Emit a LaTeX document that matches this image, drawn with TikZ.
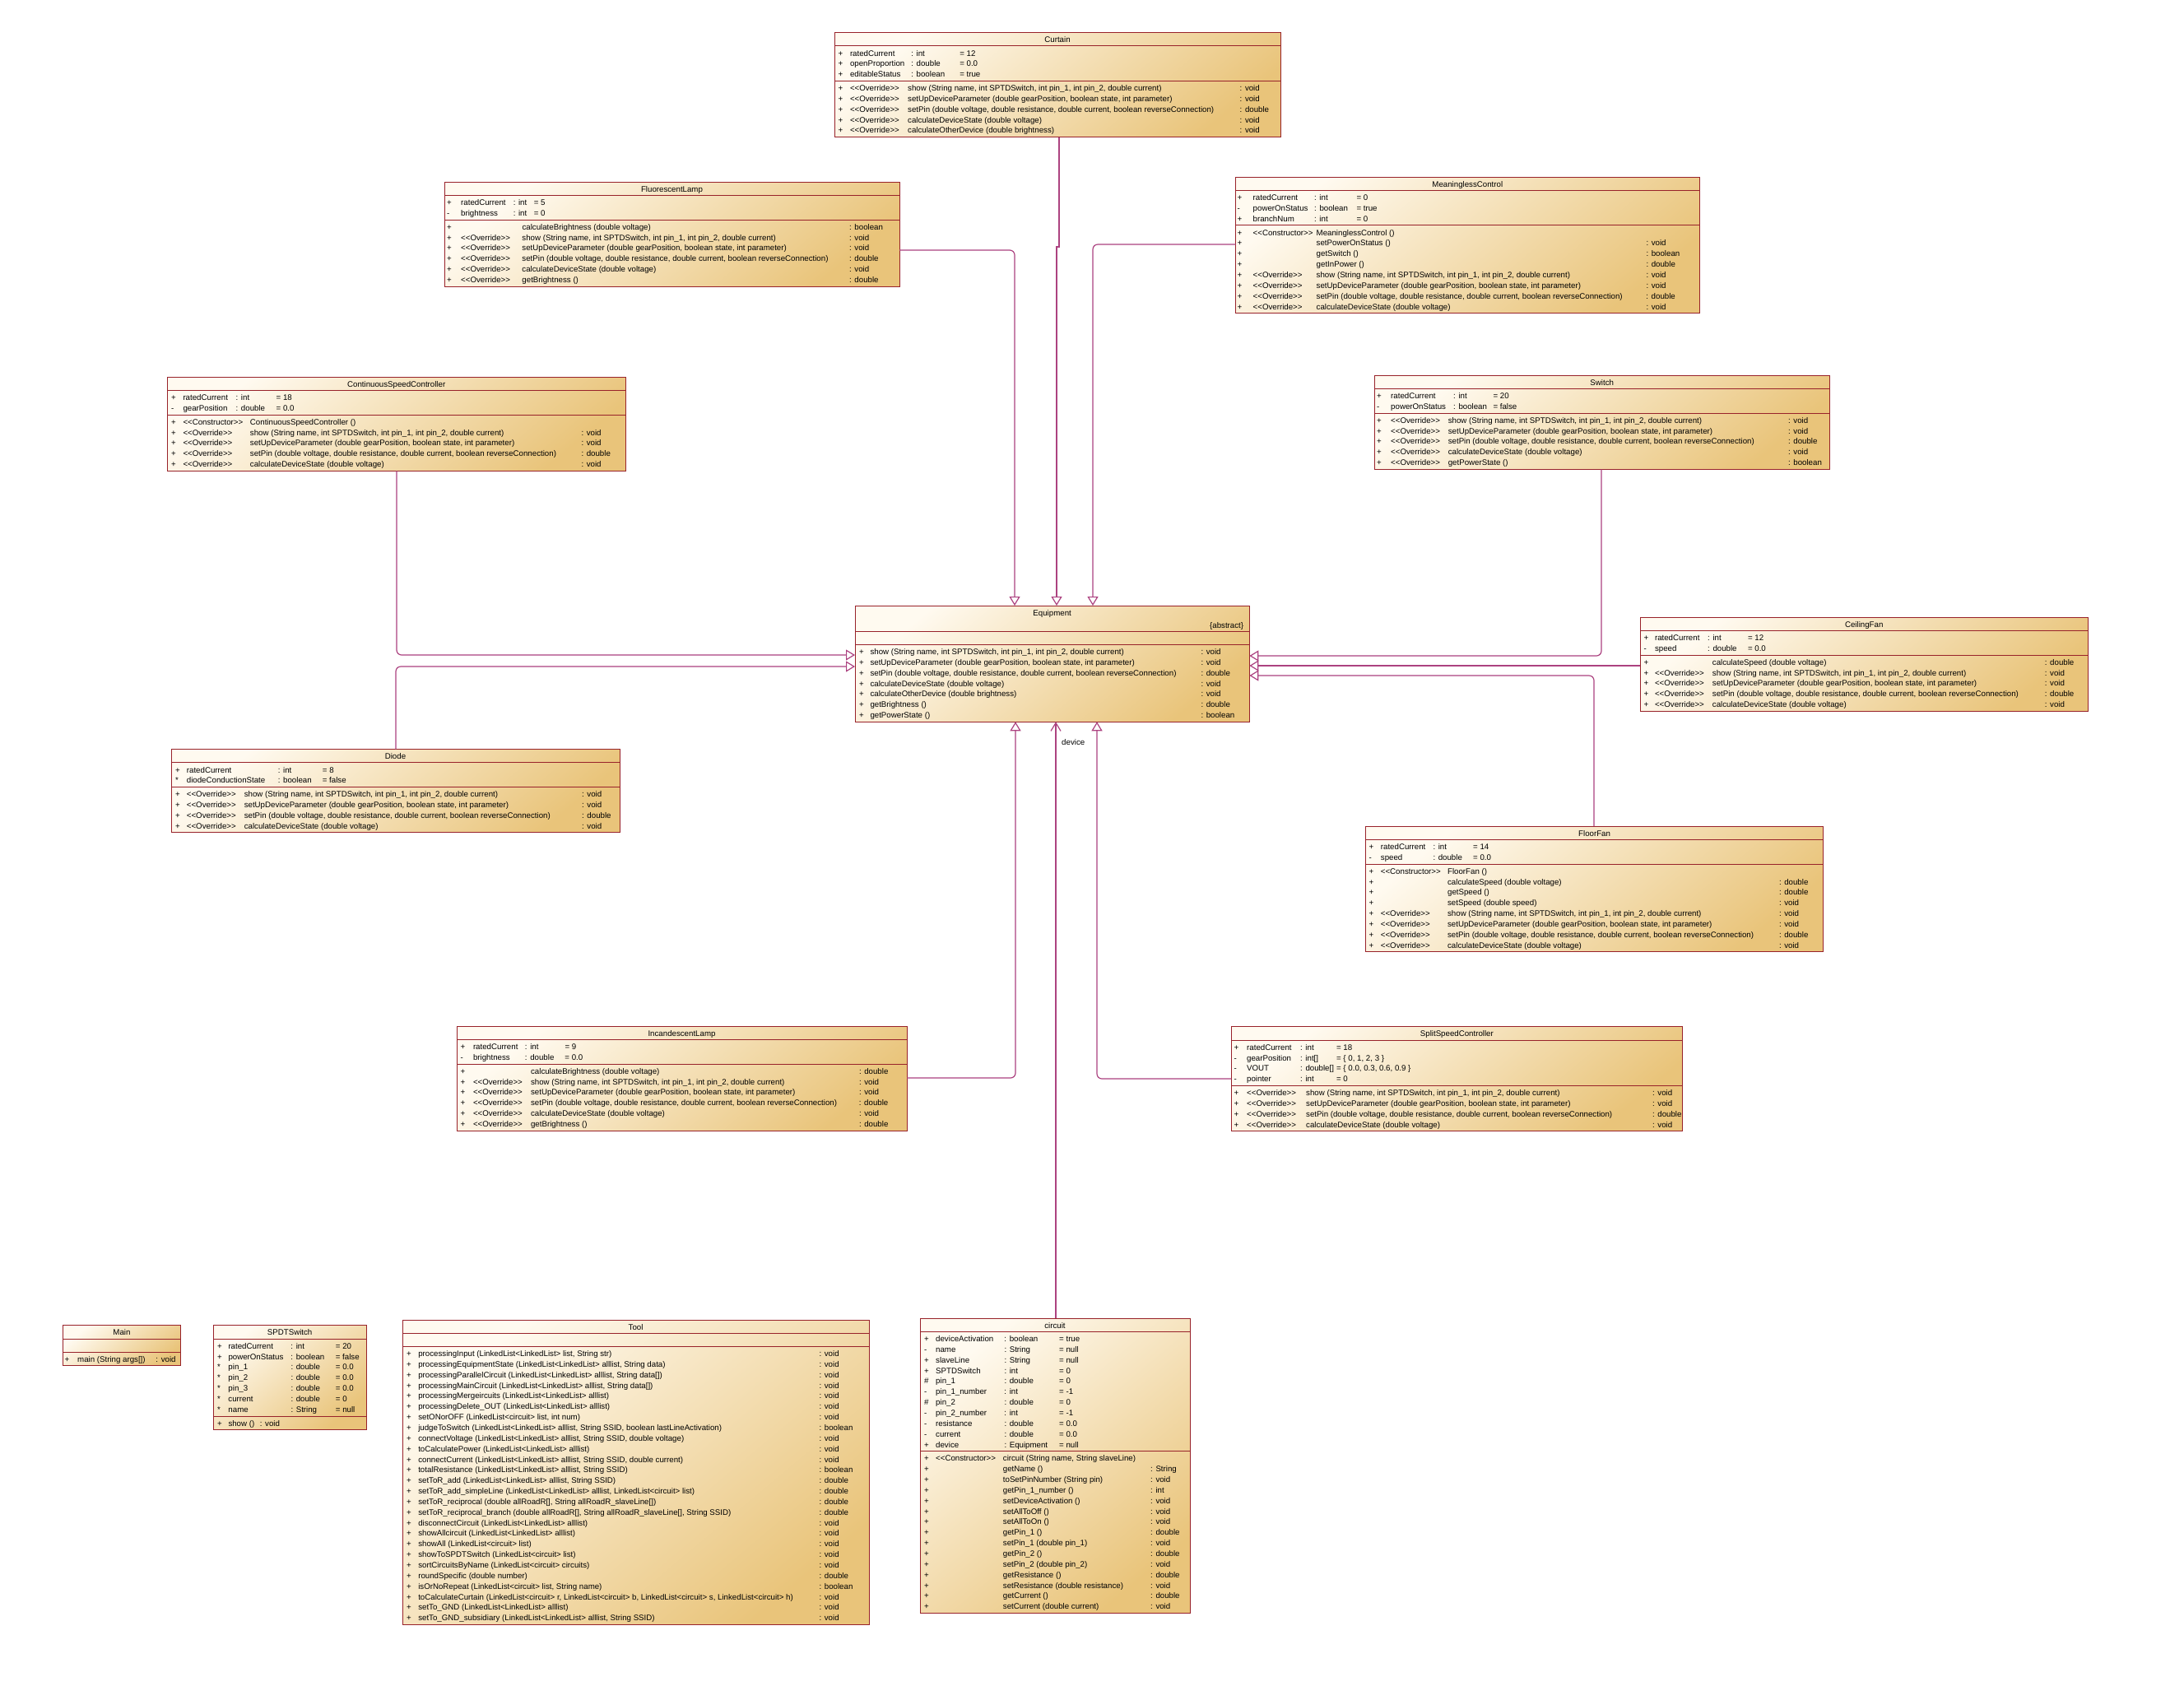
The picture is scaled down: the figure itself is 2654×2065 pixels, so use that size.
\documentclass[tikz,border=0pt]{standalone}
\usepackage{fontspec}
\newfontfamily\uf{Liberation Sans}
\usetikzlibrary{arrows.meta,calc}
\definecolor{bordc}{RGB}{152,34,42}
\definecolor{connc}{RGB}{172,66,128}
\definecolor{litec}{RGB}{255,250,240}
\definecolor{darkc}{RGB}{233,196,122}
\def\wA{0}\def\wB{0}\def\wC{0}
\newcommand\urow[4]{\strut\makebox[\wA pt][l]{#1}\makebox[\wB pt][l]{#2}\makebox[\wC pt][l]{#3}#4}
\newcommand\mShow{show (String name, int SPTDSwitch, int pin\_1, int pin\_2, double current)}
\newcommand\mSetUp{setUpDeviceParameter (double gearPosition, boolean state, int parameter)}
\newcommand\mSetPin{setPin (double voltage, double resistance, double current, boolean reverseConnection)}
\newcommand\mCalc{calculateDeviceState (double voltage)}
\newcommand\stO{<<Override>>}
\newcommand\stC{<<Constructor>>}
\newcommand\tLL{LinkedList<LinkedList>}
\newcommand\tLC{LinkedList<circuit>}
% id, L, T, R, title, title height, attr rows (0 = empty), method rows
\newcommand\umlclass[8]{%
  \pgfmathsetmacro\uSa{#3+#6}%
  \pgfmathsetmacro\uSb{\uSa+((#7==0)?16:(#7*12.85+4))}%
  \pgfmathsetmacro\uBt{\uSb+#8*12.85+4}%
  \pgfmathsetmacro\uWd{#4-#2}%
  \pgfmathsetmacro\uHt{\uBt-#3}%
  \node[cls, minimum width=\uWd pt, minimum height=\uHt pt] (#1) at (#2,#3) {};%
  \draw[sepl] (#1.west |- 0,\uSa) -- (#1.east |- 0,\uSa);%
  \draw[sepl] (#1.west |- 0,\uSb) -- (#1.east |- 0,\uSb);%
  \node[ttl] (#1-t) at ($(#1.north)+(0,12)$) {#5};%
  \coordinate (#1-a) at (#2,\uSa+3);%
  \coordinate (#1-m) at (#2,\uSb+3);%
}
% node name, coordinate, x0, x1, x2, x3, rows
\newcommand\rows[7]{%
  \pgfmathsetmacro\wA{#4-#3}\pgfmathsetmacro\wB{#5-#4}\pgfmathsetmacro\wC{#6-#5}%
  \node[txt] (#1) at (#2 -| #3,0) {#7};%
}
\begin{document}
\begin{tikzpicture}[x=1pt,y=-1pt,
  cls/.style={draw=bordc,line width=0.9pt,top color=litec,bottom color=darkc,shading angle=40,anchor=north west,inner sep=0pt,outer sep=0pt},
  sepl/.style={draw=bordc,line width=0.9pt},
  ttl/.style={anchor=base,inner sep=0pt,font=\uf\fontsize{9.7}{12.85}\selectfont},
  txt/.style={anchor=north west,inner sep=0pt,align=left,font=\uf\fontsize{9.7}{12.85}\selectfont},
  conn/.style={draw=connc,line width=1.2pt,rounded corners=6pt},
  gen/.style={conn,-{Triangle[length=11pt,width=13pt,fill=white]}},
  assoc/.style={conn,-{Straight Barb[length=10pt,width=12pt]}},
  lbl/.style={anchor=base west,inner sep=0pt,font=\uf\fontsize{9.7}{12.85}\selectfont}
]
\fill[white] (0,0) rectangle (2654,2065);
\useasboundingbox (0,0) rectangle (2654,2065);

% ---------------- Curtain
\umlclass{curtain}{1014}{39.5}{1556}{Curtain}{16.3}{3}{5}
\rows{curtain-at}{curtain-a}{1018.5}{1032.8}{1107.2}{1166.1}{%
\urow{+}{ratedCurrent}{: int}{= 12}\\
\urow{+}{openProportion}{: double}{= 0.0}\\
\urow{+}{editableStatus}{: boolean}{= true}}
\rows{curtain-mt}{curtain-m}{1018.5}{1032.8}{1103}{1506.5}{%
\urow{+}{\stO}{\mShow}{: void}\\
\urow{+}{\stO}{\mSetUp}{: void}\\
\urow{+}{\stO}{\mSetPin}{: double}\\
\urow{+}{\stO}{\mCalc}{: void}\\
\urow{+}{\stO}{calculateOtherDevice (double brightness)}{: void}}

% ---------------- FluorescentLamp
\umlclass{fluor}{540}{221}{1093}{FluorescentLamp}{16.3}{2}{6}
\rows{fluor-at}{fluor-a}{542.8}{560}{623.6}{648.6}{%
\urow{+}{ratedCurrent}{: int}{= 5}\\
\urow{-}{brightness}{: int}{= 0}}
\rows{fluor-mt}{fluor-m}{542.8}{560}{634.3}{1032}{%
\urow{+}{}{calculateBrightness (double voltage)}{: boolean}\\
\urow{+}{\stO}{\mShow}{: void}\\
\urow{+}{\stO}{\mSetUp}{: void}\\
\urow{+}{\stO}{\mSetPin}{: double}\\
\urow{+}{\stO}{\mCalc}{: void}\\
\urow{+}{\stO}{getBrightness ()}{: double}}

% ---------------- MeaninglessControl
\umlclass{mc}{1501.6}{215}{2065}{MeaninglessControl}{16.3}{3}{8}
\rows{mc-at}{mc-a}{1503.5}{1522.5}{1597}{1648.3}{%
\urow{+}{ratedCurrent}{: int}{= 0}\\
\urow{-}{powerOnStatus}{: boolean}{= true}\\
\urow{+}{branchNum}{: int}{= 0}}
\rows{mc-mt}{mc-m}{1503.5}{1522.5}{1599.5}{2000.3}{%
\urow{+}{\stC}{MeaninglessControl ()}{}\\
\urow{+}{}{setPowerOnStatus ()}{: void}\\
\urow{+}{}{getSwitch ()}{: boolean}\\
\urow{+}{}{getInPower ()}{: double}\\
\urow{+}{\stO}{\mShow}{: void}\\
\urow{+}{\stO}{\mSetUp}{: void}\\
\urow{+}{\stO}{\mSetPin}{: double}\\
\urow{+}{\stO}{\mCalc}{: void}}

% ---------------- ContinuousSpeedController
\umlclass{csc}{203}{458}{760.4}{ContinuousSpeedController}{16.3}{2}{5}
\rows{csc-at}{csc-a}{208}{222.3}{286.5}{335.5}{%
\urow{+}{ratedCurrent}{: int}{= 18}\\
\urow{-}{gearPosition}{: double}{= 0.0}}
\rows{csc-mt}{csc-m}{208}{222.3}{303.8}{706.3}{%
\urow{+}{\stC}{ContinuousSpeedController ()}{}\\
\urow{+}{\stO}{\mShow}{: void}\\
\urow{+}{\stO}{\mSetUp}{: void}\\
\urow{+}{\stO}{\mSetPin}{: double}\\
\urow{+}{\stO}{\mCalc}{: void}}

% ---------------- Diode
\umlclass{diode}{208}{910.5}{753}{Diode}{16.3}{2}{4}
\rows{diode-at}{diode-a}{213}{226.7}{337.7}{391.7}{%
\urow{+}{ratedCurrent}{: int}{= 8}\\
\urow{*}{diodeConductionState}{: boolean}{= false}}
\rows{diode-mt}{diode-m}{213}{226.7}{296.6}{707}{%
\urow{+}{\stO}{\mShow}{: void}\\
\urow{+}{\stO}{\mSetUp}{: void}\\
\urow{+}{\stO}{\mSetPin}{: double}\\
\urow{+}{\stO}{\mCalc}{: void}}

% ---------------- Switch
\umlclass{switch}{1670.4}{456}{2223}{Switch}{16.3}{2}{5}
\rows{switch-at}{switch-a}{1673}{1690}{1766}{1814.3}{%
\urow{+}{ratedCurrent}{: int}{= 20}\\
\urow{-}{powerOnStatus}{: boolean}{= false}}
\rows{switch-mt}{switch-m}{1673}{1690}{1759.6}{2172.9}{%
\urow{+}{\stO}{\mShow}{: void}\\
\urow{+}{\stO}{\mSetUp}{: void}\\
\urow{+}{\stO}{\mSetPin}{: double}\\
\urow{+}{\stO}{\mCalc}{: void}\\
\urow{+}{\stO}{getPowerState ()}{: boolean}}

% ---------------- Equipment
\umlclass{eq}{1039}{736}{1518.3}{Equipment}{31.3}{0}{7}
\node[ttl,anchor=base east] (eq-abs) at ($(eq.north east)+(-7,27.5)$) {\{abstract\}};
\rows{eq-mt}{eq-m}{1044}{1057.3}{1057.3}{1459.3}{%
\urow{+}{}{\mShow}{: void}\\
\urow{+}{}{\mSetUp}{: void}\\
\urow{+}{}{\mSetPin}{: double}\\
\urow{+}{}{\mCalc}{: void}\\
\urow{+}{}{calculateOtherDevice (double brightness)}{: void}\\
\urow{+}{}{getBrightness ()}{: double}\\
\urow{+}{}{getPowerState ()}{: boolean}}

% ---------------- CeilingFan
\umlclass{cf}{1993}{750}{2537.5}{CeilingFan}{16.3}{2}{5}
\rows{cf-at}{cf-a}{1997.5}{2010.8}{2075}{2123.8}{%
\urow{+}{ratedCurrent}{: int}{= 12}\\
\urow{-}{speed}{: double}{= 0.0}}
\rows{cf-mt}{cf-m}{1997.5}{2010.8}{2080.7}{2484.7}{%
\urow{+}{}{calculateSpeed (double voltage)}{: double}\\
\urow{+}{\stO}{\mShow}{: void}\\
\urow{+}{\stO}{\mSetUp}{: void}\\
\urow{+}{\stO}{\mSetPin}{: double}\\
\urow{+}{\stO}{\mCalc}{: void}}

% ---------------- FloorFan
\umlclass{ff}{1659.5}{1004}{2215.7}{FloorFan}{16.3}{2}{8}
\rows{ff-at}{ff-a}{1663.5}{1677.7}{1741.3}{1790}{%
\urow{+}{ratedCurrent}{: int}{= 14}\\
\urow{-}{speed}{: double}{= 0.0}}
\rows{ff-mt}{ff-m}{1663.5}{1677.7}{1758.9}{2161.8}{%
\urow{+}{\stC}{FloorFan ()}{}\\
\urow{+}{}{calculateSpeed (double voltage)}{: double}\\
\urow{+}{}{getSpeed ()}{: double}\\
\urow{+}{}{setSpeed (double speed)}{: void}\\
\urow{+}{\stO}{\mShow}{: void}\\
\urow{+}{\stO}{\mSetUp}{: void}\\
\urow{+}{\stO}{\mSetPin}{: double}\\
\urow{+}{\stO}{\mCalc}{: void}}

% ---------------- IncandescentLamp
\umlclass{il}{555}{1247}{1102}{IncandescentLamp}{16.3}{2}{6}
\rows{il-at}{il-a}{559.5}{574.8}{637.8}{686.3}{%
\urow{+}{ratedCurrent}{: int}{= 9}\\
\urow{-}{brightness}{: double}{= 0.0}}
\rows{il-mt}{il-m}{559.5}{574.8}{644.9}{1043.8}{%
\urow{+}{}{calculateBrightness (double voltage)}{: double}\\
\urow{+}{\stO}{\mShow}{: void}\\
\urow{+}{\stO}{\mSetUp}{: void}\\
\urow{+}{\stO}{\mSetPin}{: double}\\
\urow{+}{\stO}{\mCalc}{: void}\\
\urow{+}{\stO}{getBrightness ()}{: double}}

% ---------------- SplitSpeedController
\umlclass{ssc}{1496.4}{1247.7}{2044.3}{SplitSpeedController}{16.3}{4}{4}
\rows{ssc-at}{ssc-a}{1499.5}{1515}{1580}{1623.9}{%
\urow{+}{ratedCurrent}{: int}{= 18}\\
\urow{-}{gearPosition}{: int[]}{= \{ 0, 1, 2, 3 \}}\\
\urow{-}{VOUT}{: double[]}{= \{ 0.0, 0.3, 0.6, 0.9 \}}\\
\urow{-}{pointer}{: int}{= 0}}
\rows{ssc-mt}{ssc-m}{1499.5}{1515}{1587}{2007.9}{%
\urow{+}{\stO}{\mShow}{: void}\\
\urow{+}{\stO}{\mSetUp}{: void}\\
\urow{+}{\stO}{\mSetPin}{: double}\\
\urow{+}{\stO}{\mCalc}{: void}}

% ---------------- Main
\umlclass{main}{76.7}{1610.7}{219.3}{Main}{16.3}{0}{1}
\rows{main-mt}{main-m}{78.5}{94}{94}{189.3}{%
\urow{+}{}{main (String args[])}{: void}}

% ---------------- SPDTSwitch
\umlclass{spdt}{259.3}{1610.7}{445}{SPDTSwitch}{16.3}{7}{1}
\rows{spdt-at}{spdt-a}{264}{277.3}{353.3}{407.7}{%
\urow{+}{ratedCurrent}{: int}{= 20}\\
\urow{+}{powerOnStatus}{: boolean}{= false}\\
\urow{*}{pin\_1}{: double}{= 0.0}\\
\urow{*}{pin\_2}{: double}{= 0.0}\\
\urow{*}{pin\_3}{: double}{= 0.0}\\
\urow{*}{current}{: double}{= 0}\\
\urow{*}{name}{: String}{= null}}
\rows{spdt-mt}{spdt-m}{264}{277.3}{277.3}{315.7}{%
\urow{+}{}{show ()}{: void}}

% ---------------- Tool
\umlclass{tool}{489}{1604}{1056.2}{Tool}{16.3}{0}{26}
\rows{tool-mt}{tool-m}{494}{508.1}{508.1}{995.4}{%
\urow{+}{}{processingInput (\tLL{} list, String str)}{: void}\\
\urow{+}{}{processingEquipmentState (\tLL{} alllist, String data)}{: void}\\
\urow{+}{}{processingParallelCircuit (\tLL{} alllist, String data[])}{: void}\\
\urow{+}{}{processingMainCircuit (\tLL{} alllist, String data[])}{: void}\\
\urow{+}{}{processingMergeircuits (\tLL{} alllist)}{: void}\\
\urow{+}{}{processingDelete\_OUT (\tLL{} alllist)}{: void}\\
\urow{+}{}{setONorOFF (\tLC{} list, int num)}{: void}\\
\urow{+}{}{judgeToSwitch (\tLL{} alllist, String SSID, boolean lastLineActivation)}{: boolean}\\
\urow{+}{}{connectVoltage (\tLL{} alllist, String SSID, double voltage)}{: void}\\
\urow{+}{}{toCalculatePower (\tLL{} alllist)}{: void}\\
\urow{+}{}{connectCurrent (\tLL{} alllist, String SSID, double current)}{: void}\\
\urow{+}{}{totalResistance (\tLL{} alllist, String SSID)}{: boolean}\\
\urow{+}{}{setToR\_add (\tLL{} alllist, String SSID)}{: double}\\
\urow{+}{}{setToR\_add\_simpleLine (\tLL{} alllist, \tLC{} list)}{: double}\\
\urow{+}{}{setToR\_reciprocal (double allRoadR[], String allRoadR\_slaveLine[])}{: double}\\
\urow{+}{}{setToR\_reciprocal\_branch (double allRoadR[], String allRoadR\_slaveLine[], String SSID)}{: double}\\
\urow{+}{}{disconnectCircuit (\tLL{} alllist)}{: void}\\
\urow{+}{}{showAllcircuit (\tLL{} alllist)}{: void}\\
\urow{+}{}{showAll (\tLC{} list)}{: void}\\
\urow{+}{}{showToSPDTSwitch (\tLC{} list)}{: void}\\
\urow{+}{}{sortCircuitsByName (\tLC{} circuits)}{: void}\\
\urow{+}{}{roundSpecific (double number)}{: double}\\
\urow{+}{}{isOrNoRepeat (\tLC{} list, String name)}{: boolean}\\
\urow{+}{}{toCalculateCurtain (\tLC{} r, \tLC{} b, \tLC{} s, \tLC{} h)}{: void}\\
\urow{+}{}{setTo\_GND (\tLL{} alllist)}{: void}\\
\urow{+}{}{setTo\_GND\_subsidiary (\tLL{} alllist, String SSID)}{: void}}

% ---------------- circuit
\umlclass{circ}{1118}{1602}{1446}{circuit}{16.3}{11}{15}
\rows{circ-at}{circ-a}{1123}{1137}{1220.3}{1287}{%
\urow{+}{deviceActivation}{: boolean}{= true}\\
\urow{-}{name}{: String}{= null}\\
\urow{+}{slaveLine}{: String}{= null}\\
\urow{+}{SPTDSwitch}{: int}{= 0}\\
\urow{\#}{pin\_1}{: double}{= 0}\\
\urow{-}{pin\_1\_number}{: int}{= -1}\\
\urow{\#}{pin\_2}{: double}{= 0}\\
\urow{-}{pin\_2\_number}{: int}{= -1}\\
\urow{-}{resistance}{: double}{= 0.0}\\
\urow{-}{current}{: double}{= 0.0}\\
\urow{+}{device}{: Equipment}{= null}}
\rows{circ-mt}{circ-m}{1123}{1137}{1218.7}{1398}{%
\urow{+}{\stC}{circuit (String name, String slaveLine)}{}\\
\urow{+}{}{getName ()}{: String}\\
\urow{+}{}{toSetPinNumber (String pin)}{: void}\\
\urow{+}{}{getPin\_1\_number ()}{: int}\\
\urow{+}{}{setDeviceActivation ()}{: void}\\
\urow{+}{}{setAllToOff ()}{: void}\\
\urow{+}{}{setAllToOn ()}{: void}\\
\urow{+}{}{getPin\_1 ()}{: double}\\
\urow{+}{}{setPin\_1 (double pin\_1)}{: void}\\
\urow{+}{}{getPin\_2 ()}{: double}\\
\urow{+}{}{setPin\_2 (double pin\_2)}{: void}\\
\urow{+}{}{getResistance ()}{: double}\\
\urow{+}{}{setResistance (double resistance)}{: void}\\
\urow{+}{}{getCurrent ()}{: double}\\
\urow{+}{}{setCurrent (double current)}{: void}}

% ---------------- connectors
\draw[gen] (fluor.east |- 0,304) -| (eq.north -| 1233,0);
\draw[gen,rounded corners=0pt] (curtain.south -| 1287,0) -- (1287,300) -- (1284,300) -- (eq.north -| 1284,0);
\draw[gen] (mc.west |- 0,297) -| (eq.north -| 1328,0);
\draw[gen] (csc.south -| 482,0) |- (eq.west |- 0,796);
\draw[gen] (diode.north -| 481,0) |- (eq.west |- 0,810);
\draw[gen] (switch.south -| 1946,0) |- (eq.east |- 0,797);
\draw[gen] (cf.west |- 0,809) -- (eq.east |- 0,809);
\draw[gen] (ff.north -| 1937,0) |- (eq.east |- 0,821);
\draw[gen] (il.east |- 0,1310) -| (eq.south -| 1234,0);
\draw[gen] (ssc.west |- 0,1311) -| (eq.south -| 1333,0);
\draw[assoc] (circ.north -| 1283,0) -- (eq.south -| 1283,0);
\node[lbl] (devlbl) at (1290,905) {device};
\end{tikzpicture}
\end{document}
